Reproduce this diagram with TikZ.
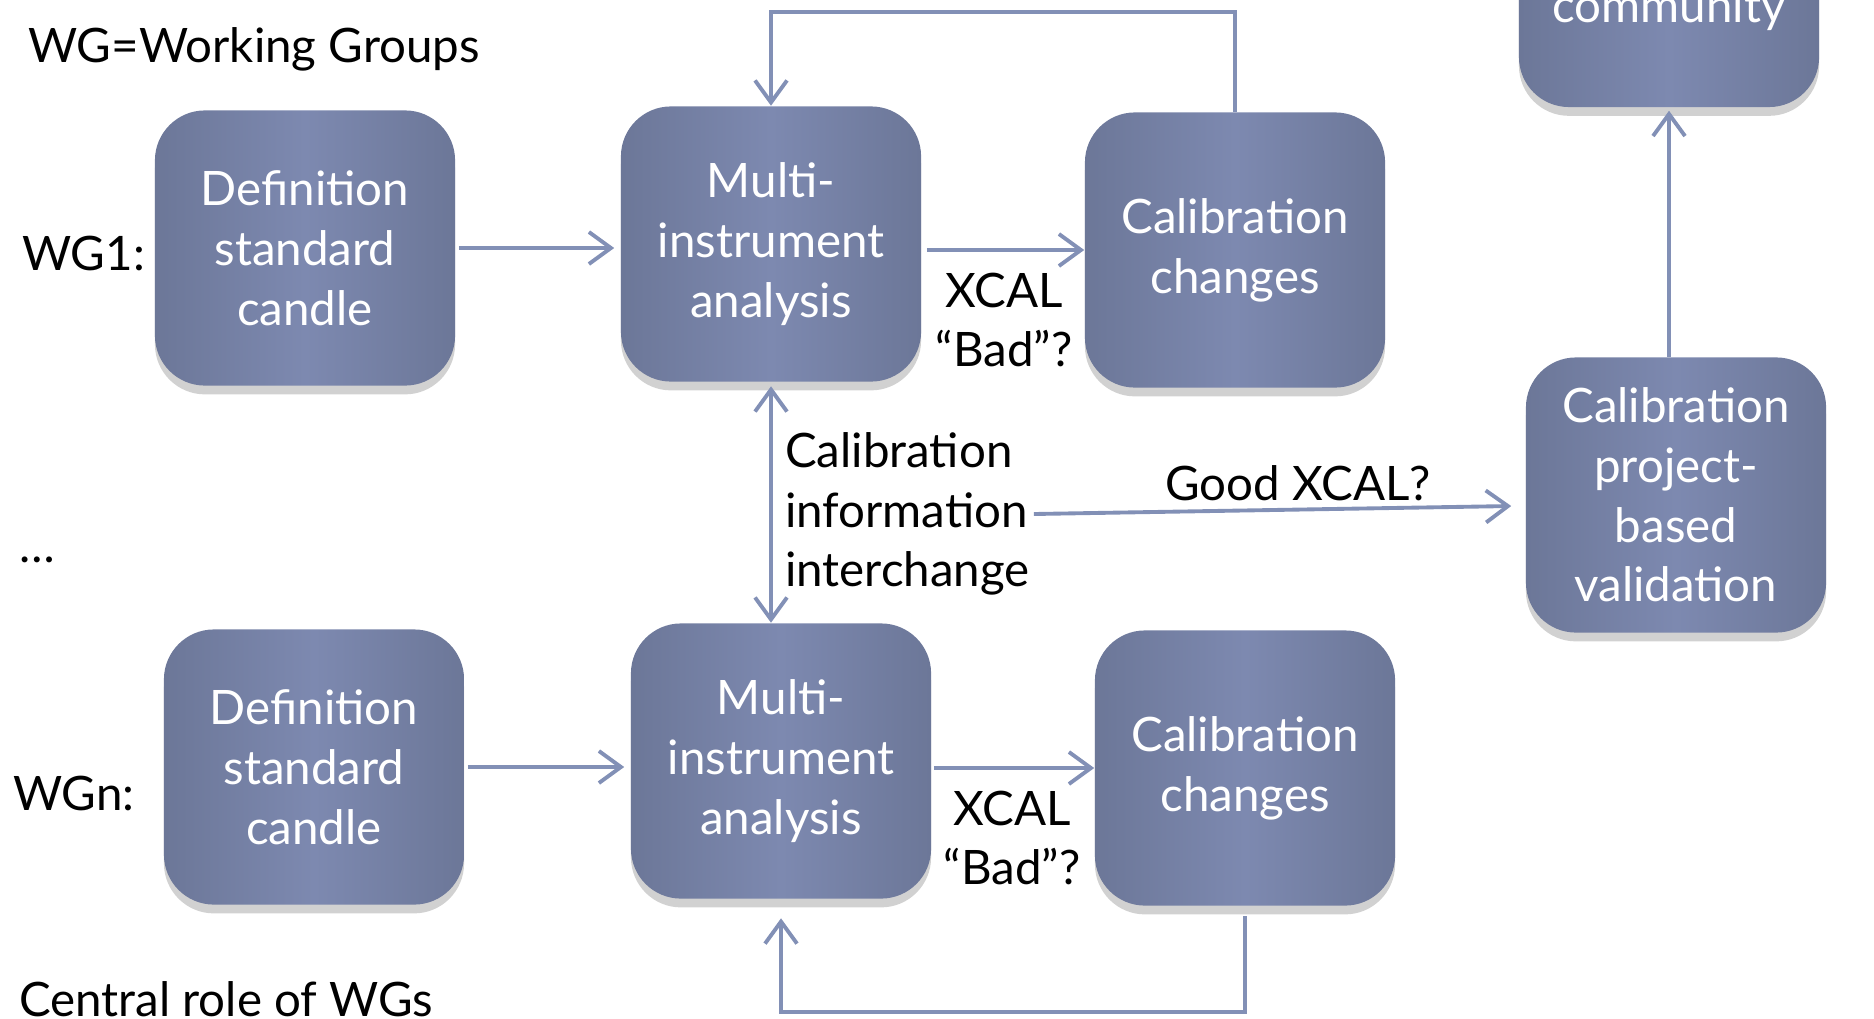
\documentclass[tikz,border=0pt]{standalone}
\usepackage{fontspec}
\setmainfont{Lato}
\usetikzlibrary{arrows.meta,shadows}
\definecolor{boxlight}{HTML}{7D89B0}
\definecolor{boxdark}{HTML}{6C7798}
\definecolor{flowcol}{HTML}{8290B6}
\begin{document}
\begin{tikzpicture}
    [x=0.01cm,y=-0.01cm,
    >={Straight Barb[length=2.2mm,width=3.2mm]},
    wgbox/.style={rounded corners=0.5cm,minimum width=3cm,minimum height=2.75cm,
      left color=boxdark,right color=boxdark,middle color=boxlight,
      text=white,align=center,font=\fontsize{13.5}{17}\selectfont,
      drop shadow={shadow xshift=0pt,shadow yshift=-2.5pt,opacity=0.3,fill=black!60}},
    flow/.style={draw=flowcol,line width=1.1pt,->},
    txt/.style={font=\fontsize{13.5}{17}\selectfont,inner sep=1pt}]
    \clip (0,0) rectangle (1874,1018);
    %labels on the left
    \node[txt,anchor=base west] (title) at (24,62) {WG=Working Groups};
    \node[txt,anchor=base west] (wgone) at (18,270) {WG1:};
    \node[txt,anchor=base west] (dots) at (15,562) {\ldots};
    \node[txt,anchor=base west] (wgn) at (9,810) {WGn:};
    \node[txt,anchor=base west] (central) at (15,1016) {Central role of WGs};
    %boxes WG1
    \node[wgbox] (defa) at (305,248) {Definition\\standard\\candle};
    \node[wgbox] (multia) at (771,244) {Multi-\\instrument\\analysis};
    \node[wgbox] (cala) at (1235,250) {Calibration\\changes};
    %boxes WGn
    \node[wgbox] (defn) at (314,767) {Definition\\standard\\candle};
    \node[wgbox] (multin) at (781,761) {Multi-\\instrument\\analysis};
    \node[wgbox] (caln) at (1245,768) {Calibration\\changes};
    %boxes right
    \node[wgbox] (valid) at (1676,495) {Calibration\\project-\\based\\validation};
    \node[wgbox,anchor=base,minimum height=0pt,inner sep=0pt,
      text height=1.72cm,text depth=0.85cm] (comm) at (1669,22) {community};
    %texts between boxes
    \node[txt,align=center] (xcala) at (1004,320) {XCAL\\``Bad''?};
    \node[txt,align=center] (xcaln) at (1012,838) {XCAL\\``Bad''?};
    \node[txt,align=left,anchor=west] (info) at (781,514) {Calibration\\information\\interchange};
    \node[txt] (good) at (1298,483) {Good XCAL?};
    %arrows
    \coordinate (topline) at (0,12);
    \coordinate (botline) at (0,1012);
    \draw[flow,shorten <=0.03cm,shorten >=0.06cm] (defa.east) -- (defa.east -| multia.west);
    \draw[flow,shorten <=0.05cm] (multia.east |- cala.west) -- (cala.west);
    \draw[flow,shorten <=0.03cm,shorten >=0.06cm] (defn.east) -- (defn.east -| multin.west);
    \draw[flow,shorten <=0.02cm] (multin.east |- caln.west) -- (caln.west);
    \draw[flow] (cala.north) -- (cala.north |- topline) -| (multia.north);
    \draw[flow,shorten <=0.1cm,shorten >=0.19cm] (caln.south) -- (caln.south |- botline) -| (multin.south);
    \draw[flow,<->,shorten <=0.04cm] (multia.south) -- (multia.south |- multin.north);
    \draw[flow] (info.east) -- ([xshift=-0.14cm,yshift=-0.11cm]valid.west);
    \draw[flow,shorten >=0.03cm] (comm.south |- valid.north) -- (comm.south);
\end{tikzpicture}
\end{document}
